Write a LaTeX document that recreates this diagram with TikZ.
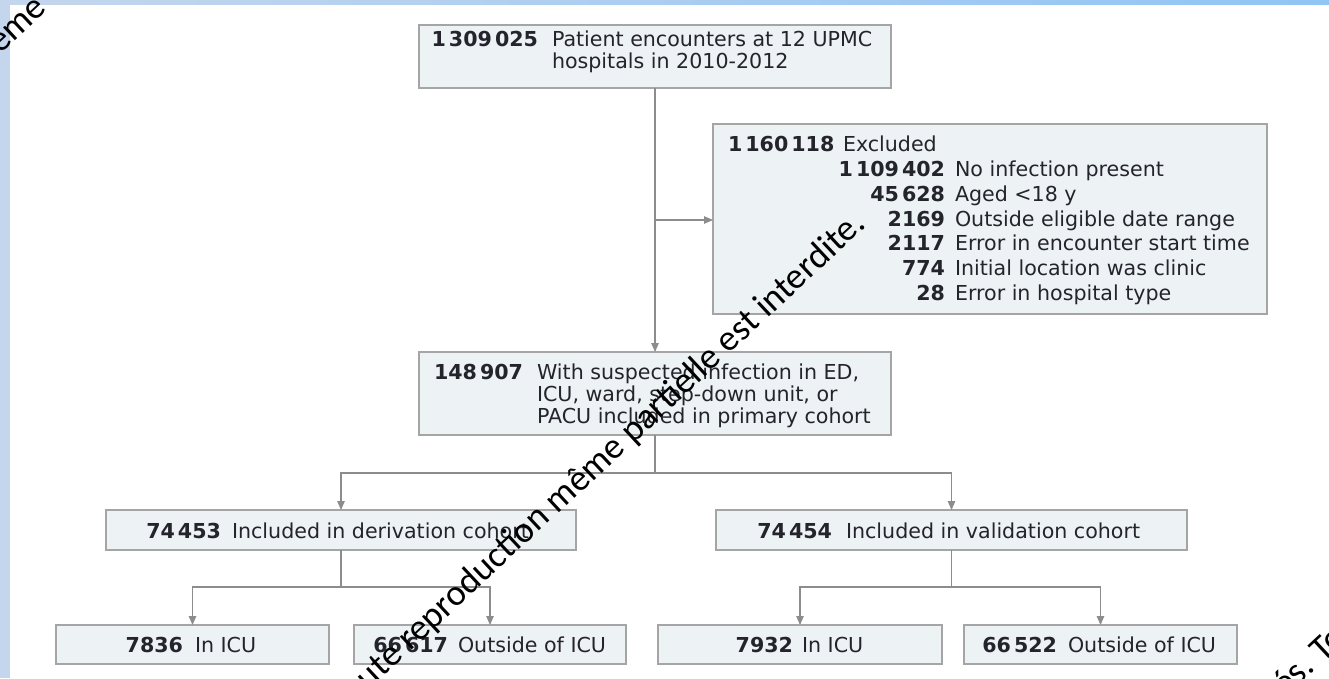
\documentclass[tikz,border=0pt]{standalone}
\usepackage{fontspec}
\setmainfont{DejaVu Sans}
\newfontfamily\wmfont{Carlito}
\usetikzlibrary{arrows.meta}
\newcommand{\grp}{\kern3pt}
\definecolor{boxfill}{RGB}{237,242,244}
\definecolor{boxline}{RGB}{165,165,165}
\definecolor{conncol}{RGB}{140,140,140}
\definecolor{txtcol}{RGB}{36,36,44}
\definecolor{frameA}{RGB}{196,214,237}
\definecolor{frameB}{RGB}{145,197,245}
\tikzset{
  box/.style={draw=boxline, fill=boxfill, line width=1.5pt, rectangle, inner sep=0pt, outer sep=0pt},
  tx/.style={text=txtcol, inner sep=0pt, outer sep=0pt, font=\fontsize{20.6}{22}\selectfont},
  num/.style={tx, anchor=base east, font=\fontsize{20.6}{22}\selectfont\bfseries},
  lab/.style={tx, anchor=base west},
  conn/.style={draw=conncol, line width=1.1pt},
  arr/.style={conn, -{Triangle[length=9pt,width=7.5pt]}},
  wm/.style={text=black, inner sep=0pt, outer sep=0pt, rotate=43, font=\wmfont\fontsize{36.5}{37}\selectfont}
}
\begin{document}
\begin{tikzpicture}[x=1pt, y=-1pt]
\useasboundingbox (0,0) rectangle (1329,678);
\clip (0,0) rectangle (1329,678);
\fill[white] (0,0) rectangle (1329,678);
\shade[left color=frameA, right color=frameB] (0,0) rectangle (1329,4);
\fill[frameA] (0,0) rectangle (10,678);

% boxes
\node[box, minimum width=472pt, minimum height=63pt] (top) at (655,56.5) {};
\node[box, minimum width=554pt, minimum height=190pt] (excl) at (990,219) {};
\node[box, minimum width=472pt, minimum height=83pt] (mid) at (655,393.5) {};
\node[box, minimum width=470pt, minimum height=40pt] (der) at (341,530) {};
\node[box, minimum width=471pt, minimum height=40pt] (val) at (951.5,530) {};
\node[box, minimum width=273pt, minimum height=39pt] (icu1) at (192.5,644.5) {};
\node[box, minimum width=272pt, minimum height=39pt] (out1) at (490,644.5) {};
\node[box, minimum width=284pt, minimum height=39pt] (icu2) at (800,644.5) {};
\node[box, minimum width=273pt, minimum height=39pt] (out2) at (1100.5,644.5) {};

% connectors
\draw[arr] (top.south) -- (mid.north);
\coordinate (b0) at (655,220);
\draw[arr] (b0) -- (excl.west |- b0);
\coordinate (j1) at (655,473);
\draw[conn] (mid.south) -- (j1);
\draw[arr] (j1) -| (der.north);
\draw[arr] (j1) -| (val.north);
\coordinate (j2) at (341,587);
\draw[conn] (der.south) -- (j2);
\draw[arr] (j2) -| (icu1.north);
\draw[arr] (j2) -| (out1.north);
\coordinate (j3) at (951.5,587);
\draw[conn] (val.south) -- (j3);
\draw[arr] (j3) -| (icu2.north);
\draw[arr] (j3) -| (out2.north);

% top box text
\node[num] (n1) at (538,46) {1\grp309\grp025};
\node[lab] (l1a) at (552,46) {Patient encounters at 12 UPMC};
\node[lab] (l1b) at (552,68) {hospitals in 2010-2012};

% excluded box text
\node[num, anchor=base west] (n2) at (728,151.7) {1\grp160\grp118};
\node[lab] (l2) at (843,151.7) {Excluded};
\node[num] (n2a) at (945,176.7) {1\grp109\grp402};
\node[lab] (l2a) at (955,176.7) {No infection present};
\node[num] (n2b) at (945,201.7) {45\grp628};
\node[lab] (l2b) at (955,201.7) {Aged <18 y};
\node[num] (n2c) at (945,226.7) {2169};
\node[lab] (l2c) at (955,226.7) {Outside eligible date range};
\node[num] (n2d) at (945,250.7) {2117};
\node[lab] (l2d) at (955,250.7) {Error in encounter start time};
\node[num] (n2e) at (945,275.7) {774};
\node[lab] (l2e) at (955,275.7) {Initial location was clinic};
\node[num] (n2f) at (945,300.7) {28};
\node[lab] (l2f) at (955,300.7) {Error in hospital type};

% mid box text
\node[num] (n3) at (523,379) {148\grp907};
\node[lab] (l3a) at (537,379) {With suspected infection in ED,};
\node[lab] (l3b) at (537,401) {ICU, ward, step-down unit, or};
\node[lab] (l3c) at (537,423) {PACU included in primary cohort};

% cohort boxes
\node[num] (n4) at (221,538) {74\grp453};
\node[lab] (l4) at (232,538) {Included in derivation cohort};
\node[num] (n5) at (832,538) {74\grp454};
\node[lab] (l5) at (846,538) {Included in validation cohort};

% bottom boxes
\node[num] (n6) at (183,652) {7836};
\node[lab] (l6) at (195,652) {In ICU};
\node[num] (n7) at (448,652) {66\grp617};
\node[lab] (l7) at (458,652) {Outside of ICU};
\node[num] (n8) at (793,652) {7932};
\node[lab] (l8) at (802,652) {In ICU};
\node[num] (n9) at (1057,652) {66\grp522};
\node[lab] (l9) at (1068,652) {Outside of ICU};

% watermark
\node[wm, anchor=base east] (w1) at (867,226) {Tous droits réservés. Toute reproduction même partielle est interdite.};
\node[wm, anchor=base east] (w2) at (48,10) {Toute reproduction même};
\node[wm, anchor=base east] (w3) at (1316,669) {Tous droits réservés.};
\node[wm, anchor=base west] (w4) at (1323,663) {Toute reproduction};
\end{tikzpicture}
\end{document}
